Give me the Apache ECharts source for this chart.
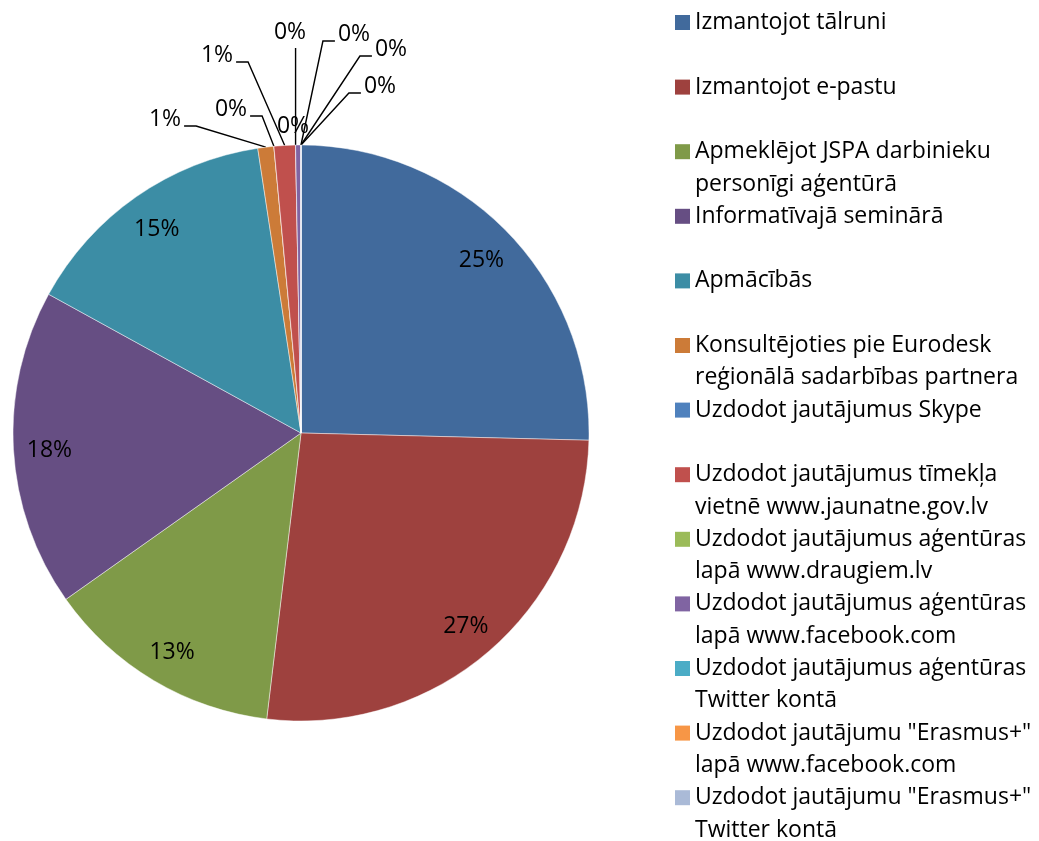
<!DOCTYPE html>
<html>
<head>
<meta charset="utf-8">
<title>Pie</title>
<script src="https://cdn.jsdelivr.net/npm/echarts@6/dist/echarts.min.js"></script>
<style>
  html, body { margin: 0; padding: 0; background: #fff; }
  #main { width: 1039px; height: 841px; }
</style>
</head>
<body>
<div id="main"></div>
<script>
// kategorijas (leģendas secībā, pulksteņrādītāja virzienā no augšas)
const categories = [
  'Izmantojot tālruni',
  'Izmantojot e-pastu',
  'Apmeklējot JSPA darbinieku personīgi aģentūrā',
  'Informatīvajā seminārā',
  'Apmācībās',
  'Konsultējoties pie Eurodesk reģionālā sadarbības partnera',
  'Uzdodot jautājumus Skype',
  'Uzdodot jautājumus tīmekļa vietnē www.jaunatne.gov.lv',
  'Uzdodot jautājumus aģentūras lapā www.draugiem.lv',
  'Uzdodot jautājumus aģentūras lapā www.facebook.com',
  'Uzdodot jautājumus aģentūras Twitter kontā',
  'Uzdodot jautājumu "Erasmus+" lapā www.facebook.com',
  'Uzdodot jautājumu "Erasmus+" Twitter kontā'
]
// daļas procentos (nolasītas no attēla)
const values = [25.4, 26.5, 13.3, 17.8, 14.6, 0.9, 0, 1.2, 0, 0.3, 0, 0, 0]
const colors = [
  '#416A9C', '#9E413E', '#7F9A48', '#664E83', '#3C8DA5', '#CC7B38',
  '#4F81BD', '#C0504D', '#9BBB59', '#8064A2', '#4BACC6', '#F79646', '#AABAD7'
]

/** izkārtojums */
const cx = 301
const cy = 433
const r = 288
const font = '"Open Sans", "Noto Sans", sans-serif'
const fontSize = 23
const lineH = 32.3
// mazo sektoru uzrakstu centri (tikai izvietojums)
const calloutAt = [null, null, null, null, null,
  [165, 119], [231, 109], [217, 55], [290, 32], [293, 126], [354, 34], [391, 49], [380, 86]]

const total = values.reduce((s, v) => s + v, 0)
const midAngle = []
let acc = 0
values.forEach((v) => {
  midAngle.push(((acc + v / 2) / total) * Math.PI * 2)
  acc += v
})

/** leģendas teksts: tukša rinda + divas rindas, lai pirmā rinda būtu pretī marķierim */
function wrap(name) {
  const lines = ['']
  name.split(' ').forEach((w) => {
    const cur = lines[lines.length - 1]
    if (cur && (cur + ' ' + w).length > 29) lines.push(w)
    else lines[lines.length - 1] = cur ? cur + ' ' + w : w
  })
  if (lines.length < 2) lines.push(' ')
  return ' \n' + lines.join('\n')
}

const chart = echarts.init(document.getElementById('main'), null, { renderer: 'canvas' })

const option = {
  backgroundColor: '#fff',
  color: colors,
  animation: false,
  legend: {
    orient: 'vertical',
    left: 675,
    top: 15 - (3 * lineH) / 2 + 15 / 2,
    height: 1000,
    padding: 0,
    itemGap: 64.6 - 3 * lineH,
    itemWidth: 15,
    itemHeight: 15,
    icon: 'rect',
    itemStyle: { borderWidth: 0 },
    selectedMode: false,
    data: categories,
    formatter: (name) => wrap(name),
    textStyle: {
      color: '#000',
      fontFamily: font,
      fontSize: fontSize,
      lineHeight: lineH,
    },
  },
  series: [
    {
      type: 'pie',
      center: [cx, cy],
      radius: r,
      startAngle: 90,
      clockwise: true,
      avoidLabelOverlap: false,
      silent: true,
      itemStyle: {
        borderColor: 'rgba(255,255,255,0.45)',
        borderWidth: 1,
      },
      label: {
        show: true,
        position: 'outside',
        color: '#000',
        fontFamily: font,
        fontSize: fontSize,
        formatter: (p) => Math.round(p.percent) + '%',
      },
      labelLine: {
        show: true,
        lineStyle: { color: '#000', width: 1.4 },
      },
      labelLayout(p) {
        const i = p.dataIndex
        const a = midAngle[i]
        const spot = calloutAt[i]
        if (!spot) {
          return {
            x: cx + r * 0.875 * Math.sin(a),
            y: cy - r * 0.875 * Math.cos(a) + 3,
            align: 'center',
            verticalAlign: 'middle',
          }
        }
        const [lx, ly] = spot
        const ax = cx + r * Math.sin(a)
        const ay = cy - r * Math.cos(a)
        const w = p.labelRect.width
        let pts
        if (Math.hypot(ax - lx, ay - ly) < 30) {
          pts = [[ax, ay], [ax, ay], [ax, ay]]
        } else if (Math.abs(ax - lx) < 15) {
          pts = [[ax, ly + 16], [ax, ly + 16], [ax, ay]]
        } else {
          const side = lx < ax ? 1 : -1
          const sx = lx + side * (w / 2 + 3)
          const sy = ly + 7
          pts = [[sx, sy], [sx + side * 12, sy], [ax, ay]]
        }
        return { x: lx, y: ly, align: 'center', verticalAlign: 'middle', labelLinePoints: pts }
      },
      data: categories.map((name, i) => ({
        name,
        value: values[i],
        labelLine: { show: !!calloutAt[i] },
      })),
    },
  ],
}

chart.setOption(option)
</script>
</body>
</html>
